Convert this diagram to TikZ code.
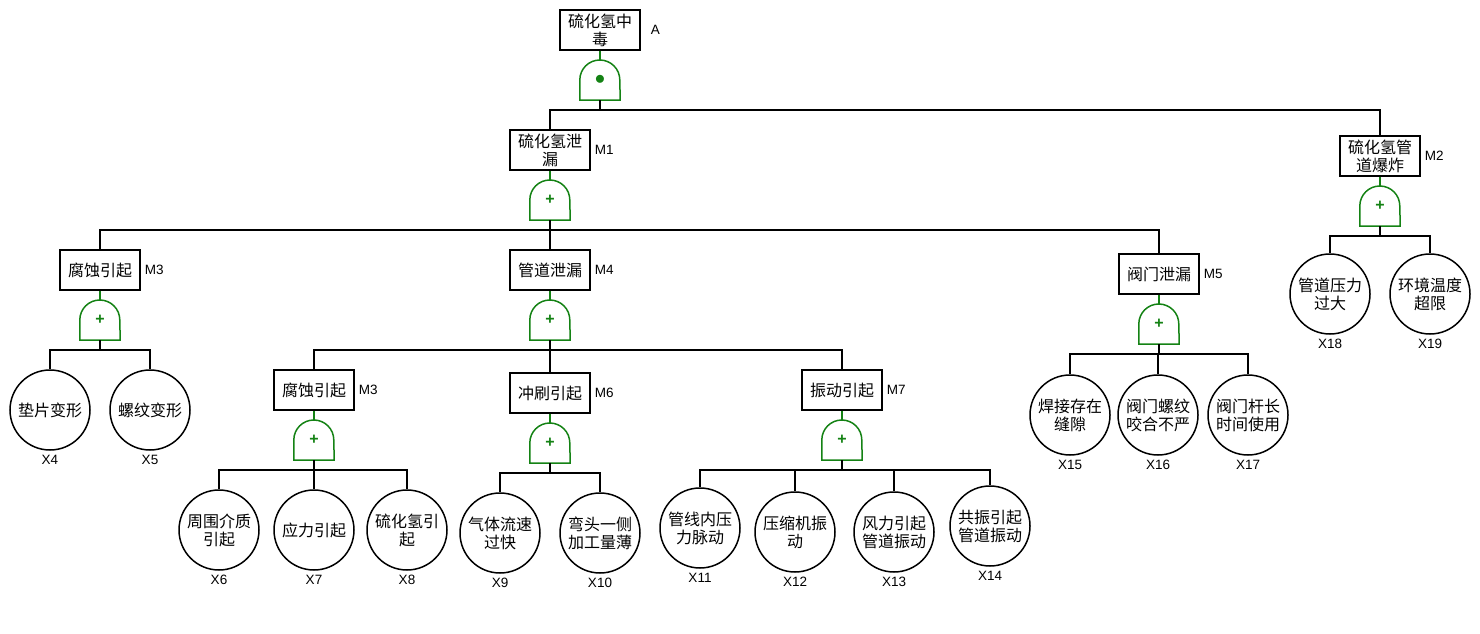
\documentclass[tikz,border=0pt]{standalone}
\usepackage{fontspec}
\setmainfont{Liberation Sans}
\newfontfamily\cjk{Noto Sans CJK SC}
\usetikzlibrary{positioning}
\definecolor{gatecol}{RGB}{20,130,20}
\tikzset{
  evento/.style={draw, line width=1.5pt, minimum width=80pt, minimum height=40pt,
    inner sep=1pt, align=center, font=\cjk\fontsize{16}{18}\selectfont},
  base/.style={circle, draw, line width=1.5pt, minimum size=80pt, inner sep=0pt,
    align=center, font=\cjk\fontsize{16}{18}\selectfont},
  tag/.style={inner sep=2pt, font=\fontsize{13.5}{15}\selectfont},
  porta/.style={minimum width=40pt, minimum height=40pt, inner sep=0pt, text=gatecol,
    font=\fontsize{16}{16}\bfseries\selectfont,
    append after command={\pgfextra{\draw[gatecol, line width=1.5pt]
      (\tikzlastnode.south west) -- (\tikzlastnode.west)
      arc[start angle=180, end angle=0, radius=20pt]
      -- (\tikzlastnode.south east) -- cycle;}}},
  stub/.style={draw=gatecol, line width=1.5pt},
  link/.style={line width=1.5pt},
  bus/.style={to path={-- ++(0,-10) -| (\tikztotarget)}},
}
\begin{document}
\begin{tikzpicture}[x=1pt, y=1pt]
  \useasboundingbox (0,0) rectangle (1480,-634);
  % evento di vertice
  \node[evento] (A) at (600,-30) {硫化氢中\\毒};
  \node[tag, right=8pt of A] (tA) {A};
  \node[porta] (gA) at (600,-80) {\fontsize{20}{20}\selectfont$\bullet$};
  \draw[stub] (A) -- (gA);
  % primo livello
  \node[evento] (M1) at (550,-150) {硫化氢泄\\漏};
  \node[tag, right=2pt of M1] (tM1) {M1};
  \node[evento] (M2) at (1380,-156) {硫化氢管\\道爆炸};
  \node[tag, right=2pt of M2] (tM2) {M2};
  \draw[link] (gA.south) to[bus] (M1) (gA.south) to[bus] (M2);
  \node[porta] (g1) at (550,-200) {+};
  \node[porta] (g2) at (1380,-206) {+};
  \draw[stub] (M1) -- (g1);
  \draw[stub] (M2) -- (g2);
  % ramo M2
  \node[base] (X18) at (1330,-294) {管道压力\\过大};
  \node[base] (X19) at (1430,-294) {环境温度\\超限};
  \node[tag, below=2pt of X18] (tX18) {X18};
  \node[tag, below=2pt of X19] (tX19) {X19};
  \draw[link] (g2.south) to[bus] (X18) (g2.south) to[bus] (X19);
  % secondo livello
  \node[evento] (M3a) at (100,-270) {腐蚀引起};
  \node[tag, right=2pt of M3a] (tM3a) {M3};
  \node[evento] (M4) at (550,-270) {管道泄漏};
  \node[tag, right=2pt of M4] (tM4) {M4};
  \node[evento] (M5) at (1159,-274) {阀门泄漏};
  \node[tag, right=2pt of M5] (tM5) {M5};
  \draw[link] (g1.south) to[bus] (M3a) (g1.south) to[bus] (M4) (g1.south) to[bus] (M5);
  \node[porta] (g3a) at (100,-320) {+};
  \node[porta] (g4) at (550,-320) {+};
  \node[porta] (g5) at (1159,-324) {+};
  \draw[stub] (M3a) -- (g3a);
  \draw[stub] (M4) -- (g4);
  \draw[stub] (M5) -- (g5);
  % ramo M3
  \node[base] (X4) at (50,-410) {垫片变形};
  \node[base] (X5) at (150,-410) {螺纹变形};
  \node[tag, below=2pt of X4] (tX4) {X4};
  \node[tag, below=2pt of X5] (tX5) {X5};
  \draw[link] (g3a.south) to[bus] (X4) (g3a.south) to[bus] (X5);
  % ramo M5
  \node[base] (X15) at (1070,-415) {焊接存在\\缝隙};
  \node[base] (X16) at (1158,-415) {阀门螺纹\\咬合不严};
  \node[base] (X17) at (1248,-415) {阀门杆长\\时间使用};
  \node[tag, below=2pt of X15] (tX15) {X15};
  \node[tag, below=2pt of X16] (tX16) {X16};
  \node[tag, below=2pt of X17] (tX17) {X17};
  \draw[link] (g5.south) to[bus] (X15) (g5.south) to[bus] (X16) (g5.south) to[bus] (X17);
  % terzo livello
  \node[evento] (M3b) at (314,-390) {腐蚀引起};
  \node[tag, right=2pt of M3b] (tM3b) {M3};
  \node[evento] (M6) at (550,-393) {冲刷引起};
  \node[tag, right=2pt of M6] (tM6) {M6};
  \node[evento] (M7) at (842,-390) {振动引起};
  \node[tag, right=2pt of M7] (tM7) {M7};
  \draw[link] (g4.south) to[bus] (M3b) (g4.south) to[bus] (M6) (g4.south) to[bus] (M7);
  \node[porta] (g3b) at (314,-440) {+};
  \node[porta] (g6) at (550,-443) {+};
  \node[porta] (g7) at (842,-440) {+};
  \draw[stub] (M3b) -- (g3b);
  \draw[stub] (M6) -- (g6);
  \draw[stub] (M7) -- (g7);
  % eventi base del terzo livello
  \node[base] (X6) at (219,-530) {周围介质\\引起};
  \node[base] (X7) at (314,-530) {应力引起};
  \node[base] (X8) at (407,-530) {硫化氢引\\起};
  \node[base] (X9) at (500,-533) {气体流速\\过快};
  \node[base] (X10) at (600,-533) {弯头一侧\\加工量薄};
  \node[base] (X11) at (700,-528) {管线内压\\力脉动};
  \node[base] (X12) at (795,-532) {压缩机振\\动};
  \node[base] (X13) at (894,-532) {风力引起\\管道振动};
  \node[base] (X14) at (990,-526) {共振引起\\管道振动};
  \node[tag, below=2pt of X6] (tX6) {X6};
  \node[tag, below=2pt of X7] (tX7) {X7};
  \node[tag, below=2pt of X8] (tX8) {X8};
  \node[tag, below=2pt of X9] (tX9) {X9};
  \node[tag, below=2pt of X10] (tX10) {X10};
  \node[tag, below=2pt of X11] (tX11) {X11};
  \node[tag, below=2pt of X12] (tX12) {X12};
  \node[tag, below=2pt of X13] (tX13) {X13};
  \node[tag, below=2pt of X14] (tX14) {X14};
  \draw[link] (g3b.south) to[bus] (X6) (g3b.south) to[bus] (X7) (g3b.south) to[bus] (X8);
  \draw[link] (g6.south) to[bus] (X9) (g6.south) to[bus] (X10);
  \draw[link] (g7.south) to[bus] (X11) (g7.south) to[bus] (X12)
    (g7.south) to[bus] (X13) (g7.south) to[bus] (X14);
\end{tikzpicture}
\end{document}
